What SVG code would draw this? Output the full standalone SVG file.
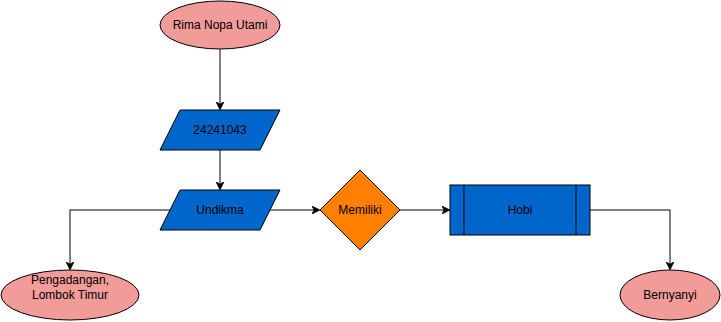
<svg xmlns="http://www.w3.org/2000/svg" width="721" height="322" viewBox="0 0 721 322">
  <style>
    .term { fill: #F19C99; stroke: #000; stroke-width: 1; }
    .io { fill: #0066CC; stroke: #000; stroke-width: 1; }
    .dec { fill: #FF8000; stroke: #000; stroke-width: 1; }
    .proc { fill: #0066CC; stroke: #000; stroke-width: 1; }
    .edge { fill: none; stroke: #000; stroke-width: 1; }
    text { font-family: "Liberation Sans", Arial, sans-serif; font-size: 12px; fill: #000; text-anchor: middle; }
  </style>
  <defs>
    <marker id="arrow" viewBox="0 0 10 10" refX="9" refY="5" markerWidth="8" markerHeight="8" markerUnits="userSpaceOnUse" orient="auto">
      <path d="M0,0 L10,5 L0,10 L3,5 Z" fill="#000" stroke="#000" stroke-width="1"/>
    </marker>
  </defs>

  <g id="connectors">
    <path class="edge" d="M220,49 L220,109" marker-end="url(#arrow)"/>
    <path class="edge" d="M220,150 L220,189" marker-end="url(#arrow)"/>
    <path class="edge" d="M170,210 L70,210 L70,269" marker-end="url(#arrow)"/>
    <path class="edge" d="M270,210 L319,210" marker-end="url(#arrow)"/>
    <path class="edge" d="M400,210 L449,210" marker-end="url(#arrow)"/>
    <path class="edge" d="M590,210 L670,210 L670,269" marker-end="url(#arrow)"/>
  </g>

  <g id="node-nama">
    <ellipse class="term" cx="220" cy="25" rx="60" ry="24"/>
    <text x="220" y="29">Rima Nopa Utami</text>
  </g>

  <g id="node-nim">
    <polygon class="io" points="180,110 280,110 260,150 160,150"/>
    <text x="220" y="134">24241043</text>
  </g>

  <g id="node-kampus">
    <polygon class="io" points="180,190 280,190 260,230 160,230"/>
    <text x="220" y="214">Undikma</text>
  </g>

  <g id="node-alamat">
    <ellipse class="term" cx="70" cy="295" rx="69" ry="25"/>
    <text x="70" y="284">Pengadangan,</text>
    <text x="70" y="299">Lombok Timur</text>
  </g>

  <g id="node-memiliki">
    <polygon class="dec" points="360,170 400,210 360,250 320,210"/>
    <text x="360" y="214">Memiliki</text>
  </g>

  <g id="node-hobi">
    <rect class="proc" x="450" y="185" width="140" height="50"/>
    <line class="edge" x1="464" y1="185" x2="464" y2="235"/>
    <line class="edge" x1="576" y1="185" x2="576" y2="235"/>
    <text x="520" y="214">Hobi</text>
  </g>

  <g id="node-bernyanyi">
    <ellipse class="term" cx="670" cy="295" rx="50" ry="25"/>
    <text x="670" y="299">Bernyanyi</text>
  </g>
</svg>
